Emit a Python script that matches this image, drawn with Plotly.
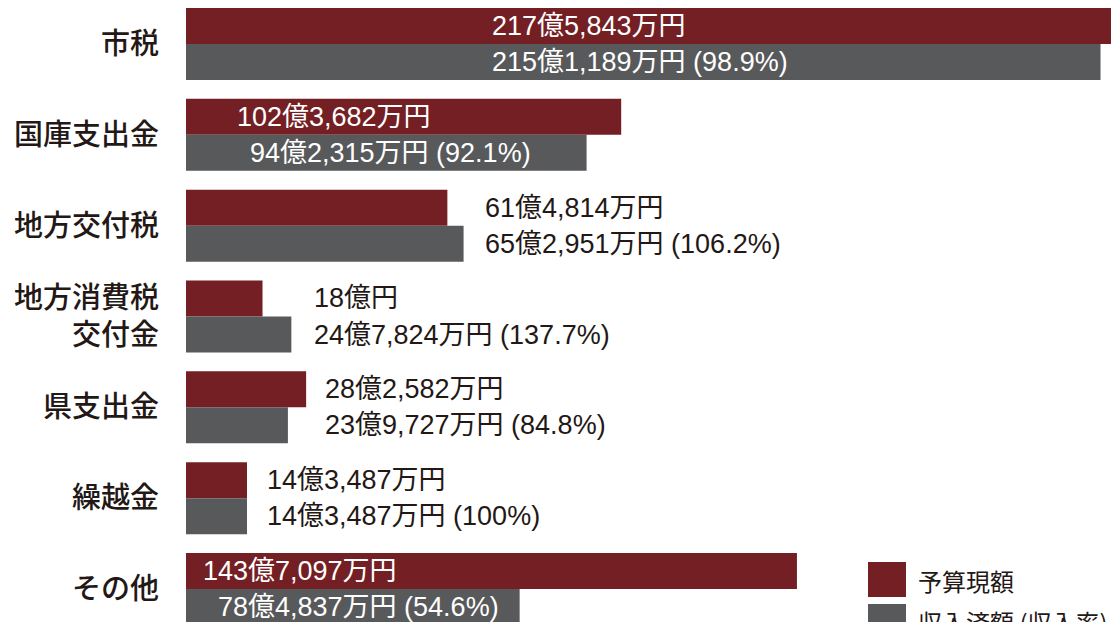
import plotly.graph_objects as go

# ---- data (万円) ----
categories = ["市税", "国庫支出金", "地方交付税", "地方消費税<br>交付金", "県支出金", "繰越金", "その他"]
budget = [2175843, 1023682, 614814, 180000, 282582, 143487, 1437097]
revenue = [2151189, 942315, 652951, 247824, 239727, 143487, 784837]
series_names = ["予算現額", "収入済額 (収入率)"]

# label left edge positions (page pixels in the 1111x622 frame)
budget_label_px = [490, 235, 483, 312, 323, 265, 201]
revenue_label_px = [490, 248, 483, 312, 323, 265, 216]

RED = "#741f24"
GRAY = "#58595b"
INK = "#231815"
FONT = "Noto Sans CJK JP"
NUMFONT = "Liberation Sans, Noto Sans CJK JP"

W, H = 1111, 622
L = 186                # plot-area left edge
XMAX = budget[0]


def fmt(v):
    oku, man = divmod(v, 10000)
    if man == 0:
        return f"{oku}億円"
    return f"{oku}億{man:,}万円"


def rate(r, b):
    p = r / b * 100
    s = f"{p:.1f}"
    if s.endswith(".0"):
        s = s[:-2]
    return f"({s}%)"


def px_x(p):  # page px -> paper x
    return (p - L) / (W - L)


def px_y(p):  # page px -> paper y
    return 1 - p / H


ypos = list(range(len(categories)))

fig = go.Figure()
fig.add_trace(go.Bar(y=ypos, x=budget, orientation="h", marker_color=RED,
                     marker_line_width=0, name=series_names[0], showlegend=False,
                     hoverinfo="skip"))
fig.add_trace(go.Bar(y=ypos, x=revenue, orientation="h", marker_color=GRAY,
                     marker_line_width=0, name=series_names[1], showlegend=False,
                     hoverinfo="skip"))

bar_w = 0.3965
annotations = []
for i in ypos:
    inside_b = px_x(budget_label_px[i]) < budget[i] / XMAX
    inside_r = px_x(revenue_label_px[i]) < revenue[i] / XMAX
    annotations.append(dict(
        x=px_x(budget_label_px[i]), xref="paper", y=i - bar_w / 2, yref="y",
        text=fmt(budget[i]), showarrow=False, xanchor="left", yanchor="middle",
        font=dict(family=NUMFONT, size=27, color="white" if inside_b else INK)))
    annotations.append(dict(
        x=px_x(revenue_label_px[i]), xref="paper", y=i + bar_w / 2, yref="y",
        text=fmt(revenue[i]) + " " + rate(revenue[i], budget[i]), showarrow=False,
        xanchor="left", yanchor="middle",
        font=dict(family=NUMFONT, size=27, color="white" if inside_r else INK)))

# legend (drawn manually to match large square swatches)
shapes = []
leg_items = [(RED, 562, 597, 580), (GRAY, 604, 640, 621)]
for (col, y0, y1, ty), name in zip(leg_items, series_names):
    shapes.append(dict(type="rect", xref="paper", yref="paper",
                       x0=px_x(868), x1=px_x(906), y0=px_y(y1), y1=px_y(y0),
                       fillcolor=col, line_width=0))
    annotations.append(dict(x=px_x(916), xref="paper", y=px_y(ty), yref="paper",
                            text=name, showarrow=False, xanchor="left", yanchor="middle",
                            font=dict(family=FONT, size=24, color=INK)))

pitch = 90.83
first_center = 44
top_val = -first_center / pitch
bot_val = (H - first_center) / pitch

fig.update_layout(
    width=W, height=H,
    margin=dict(l=L, r=0, t=0, b=0),
    paper_bgcolor="white", plot_bgcolor="white",
    barmode="group", bargap=0.207, bargroupgap=0,
    xaxis=dict(range=[0, XMAX], visible=False, fixedrange=True),
    yaxis=dict(range=[bot_val, top_val], tickvals=ypos, ticktext=categories,
               showgrid=False, zeroline=False, showline=False, ticks="",
               ticklabelstandoff=26,
               tickfont=dict(family=FONT, size=29, color=INK, weight=500),
               fixedrange=True),
    annotations=annotations,
    shapes=shapes,
    font=dict(family=FONT),
)

fig.write_html(
    "out.html",
    config={"displayModeBar": False},
    post_script="document.body.style.margin='0';document.body.style.overflow='hidden';",
)
